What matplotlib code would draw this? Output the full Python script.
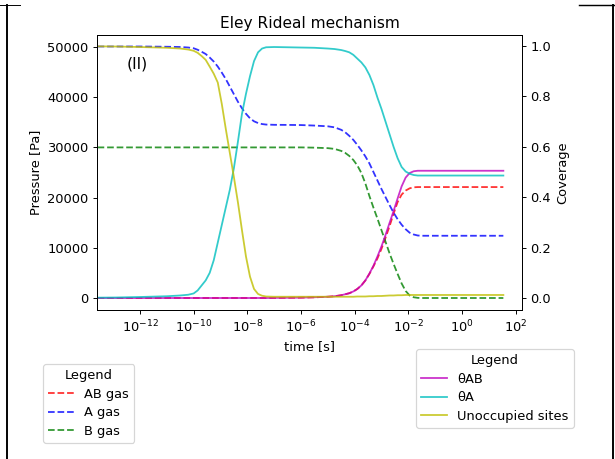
import matplotlib
matplotlib.use("Agg")
import matplotlib.pyplot as plt
from matplotlib.lines import Line2D
from matplotlib.ticker import FixedLocator, NullLocator, LogFormatterSciNotation

# ---- data ----
# time as powers of ten (first point lies left of the visible axis range)
log10_time = [-15, -12.9, -12, -11, -10.5, -10.2, -10, -9.85, -9.7, -9.55,
              -9.4, -9.25, -9.1, -8.95, -8.8, -8.65, -8.5, -8.35, -8.2, -8.05,
              -7.9, -7.75, -7.6, -7.45, -7.3, -7.0, -6.5, -6, -5.5, -5,
              -4.75, -4.5, -4.35, -4.2, -4.05, -3.9, -3.75, -3.6, -3.45, -3.3,
              -3.15, -3.0, -2.85, -2.7, -2.55, -2.4, -2.25, -2.1, -1.95, -1.8,
              -1.65, -1.5, -1.2, -1, 0, 1, 1.54]

p_AB = [0, 0, 0, 0, 0, 0, 0, 0, 0, 0,
        0, 0, 0, 0, 0, 0, 0, 0, 0, 0,
        0, 0, 0, 0, 0, 20, 40, 70, 130, 250,
        350, 550, 750, 950, 1300, 1800, 2500, 3500, 4800, 6300,
        7900, 9800, 12000, 14300, 16800, 19100, 20600, 21400, 21850, 22050,
        22100, 22100, 22100, 22100, 22100, 22100, 22100]

p_A = [50100, 50100, 50100, 50050, 50000, 49900, 49750, 49450, 49050, 48600,
       47900, 47100, 46100, 44900, 43600, 42100, 40600, 39100, 37800, 36700,
       35800, 35200, 34850, 34650, 34550, 34500, 34480, 34450, 34350, 34200,
       34000, 33500, 33000, 32300, 31500, 30500, 29400, 28200, 26800, 25100,
       23400, 21700, 20100, 18500, 17000, 15700, 14600, 13700, 13000, 12650,
       12450, 12400, 12400, 12400, 12400, 12400, 12400]

p_B = [30000, 30000, 30000, 30000, 30000, 30000, 30000, 30000, 30000, 30000,
       30000, 30000, 30000, 30000, 30000, 30000, 30000, 30000, 30000, 30000,
       30000, 30000, 30000, 30000, 30000, 30000, 30000, 30000, 29950, 29850,
       29700, 29300, 28900, 28300, 27500, 26400, 24900, 22800, 20300, 18000,
       15800, 13500, 11200, 8900, 6800, 4800, 2900, 1400, 500, 150,
       30, 0, 0, 0, 0, 0, 0]

theta_AB = [0, 0, 0, 0, 0, 0, 0, 0, 0, 0,
            0, 0, 0, 0, 0, 0, 0, 0, 0, 0,
            0, 0, 0, 0, 0, 0.0005, 0.001, 0.0015, 0.003, 0.005,
            0.007, 0.011, 0.015, 0.019, 0.026, 0.036, 0.05, 0.07, 0.097, 0.128,
            0.165, 0.205, 0.25, 0.298, 0.345, 0.395, 0.443, 0.478, 0.496, 0.503,
            0.505, 0.505, 0.505, 0.505, 0.505, 0.505, 0.505]

theta_A = [0.0, 0.002, 0.004, 0.007, 0.01, 0.013, 0.018, 0.03, 0.05, 0.07,
           0.10, 0.15, 0.22, 0.29, 0.36, 0.43, 0.515, 0.62, 0.73, 0.81,
           0.88, 0.94, 0.975, 0.99, 0.995, 0.996, 0.995, 0.994, 0.993, 0.99,
           0.988, 0.984, 0.98, 0.975, 0.965, 0.95, 0.935, 0.915, 0.885, 0.845,
           0.795, 0.75, 0.70, 0.65, 0.60, 0.555, 0.52, 0.502, 0.493, 0.488,
           0.486, 0.486, 0.486, 0.486, 0.486, 0.486, 0.486]

theta_free = [1.0, 0.998, 0.996, 0.993, 0.99, 0.986, 0.981, 0.973, 0.96, 0.945,
              0.918, 0.89, 0.855, 0.77, 0.67, 0.575, 0.48, 0.38, 0.27, 0.165,
              0.085, 0.036, 0.016, 0.009, 0.006, 0.005, 0.005, 0.005, 0.005, 0.005,
              0.005, 0.005, 0.005, 0.005, 0.005, 0.006, 0.006, 0.006, 0.007, 0.007,
              0.008, 0.008, 0.009, 0.01, 0.01, 0.011, 0.011, 0.012, 0.012, 0.012,
              0.012, 0.012, 0.012, 0.012, 0.012, 0.012, 0.012]

xticks = [1e-12, 1e-10, 1e-8, 1e-6, 1e-4, 1e-2, 1e0, 1e2]
yticks_left = [0, 10000, 20000, 30000, 40000, 50000]
yticks_right = [0.0, 0.2, 0.4, 0.6, 0.8, 1.0]

time_s = [10.0 ** e for e in log10_time]

# ---- figure ----
plt.rcParams['font.size'] = 10.8
DPI = 86.4
fig = plt.figure(figsize=(615 / DPI, 459 / DPI), dpi=DPI)
ax = fig.add_axes([97 / 615, 1 - 310 / 459, 425 / 615, 275 / 459])

ALPHA = 0.8
l1, = ax.plot(time_s, p_AB, 'r--', alpha=ALPHA, label='AB gas')
l2, = ax.plot(time_s, p_A, 'b--', alpha=ALPHA, label='A gas')
l3, = ax.plot(time_s, p_B, 'g--', alpha=ALPHA, label='B gas')
ax.set_xscale('log')
ax.set_xlim(10 ** -13.6, 10 ** 2.235)
ax.set_ylim(-2390, 52390)
ax.xaxis.set_major_locator(FixedLocator(xticks))
ax.xaxis.set_major_formatter(LogFormatterSciNotation())
ax.xaxis.set_minor_locator(NullLocator())
ax.set_yticks(yticks_left)
ax.set_xlabel('time [s]')
ax.set_ylabel('Pressure [Pa]')
ax.set_title('Eley Rideal mechanism', fontsize=12.8)
ax.text(0.07, 0.895, '(II)', transform=ax.transAxes, va='center', ha='left', fontsize=13)

ax2 = ax.twinx()
m1, = ax2.plot(time_s, theta_AB, 'm-', alpha=ALPHA, label='θAB')
m2, = ax2.plot(time_s, theta_A, 'c-', alpha=ALPHA, label='θA')
m3, = ax2.plot(time_s, theta_free, 'y-', alpha=ALPHA, label='Unoccupied sites')
ax2.set_ylim(-0.0476, 1.0437)
ax2.set_yticks(yticks_right)
ax2.set_ylabel('Coverage')
ax2.set_xlim(10 ** -13.6, 10 ** 2.235)

fig.legend(handles=[l1, l2, l3], title='Legend', loc='upper left',
           bbox_to_anchor=(43 / 615, 1 - 364 / 459), borderaxespad=0,
           labelspacing=0.42, fontsize=10.8, title_fontsize=10.8)
fig.legend(handles=[m1, m2, m3], title='Legend', loc='upper left',
           bbox_to_anchor=(416 / 615, 1 - 349 / 459), borderaxespad=0,
           labelspacing=0.42, fontsize=10.8, title_fontsize=10.8)

# screenshot frame lines
W, H = 615.0, 459.0
def fl(xs, ys, lw):
    fig.add_artist(Line2D([x / W for x in xs], [1 - y / H for y in ys],
                          transform=fig.transFigure, color='black', lw=lw))
fl([7, 7], [5, 459], 1.6)
fl([0, 20], [5, 5], 0.8)
fl([613, 613], [5, 459], 1.6)
fl([579, 615], [5, 5], 1.2)

fig.savefig('out.png', dpi=DPI)
